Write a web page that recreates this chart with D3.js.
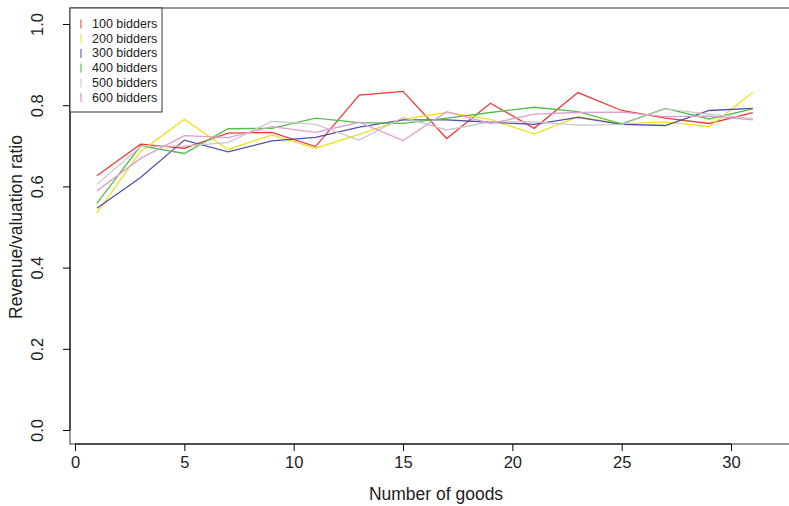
<!DOCTYPE html>
<html><head><meta charset="utf-8">
<script src="https://cdn.jsdelivr.net/npm/d3@7"></script>
<style>body{margin:0;background:#fff}svg{display:block;font-family:"Liberation Sans",Arial,Helvetica,sans-serif}</style>
</head><body><svg id="c" width="789" height="506"></svg>
<script>
const goods = [1,3,5,7,9,11,13,15,17,19,21,23,25,27,29,31];
const seriesNames = ["100 bidders","200 bidders","300 bidders","400 bidders","500 bidders","600 bidders"];
const bidders100 = [0.626,0.704,0.694,0.731,0.733,0.698,0.825,0.834,0.718,0.805,0.743,0.831,0.787,0.768,0.755,0.782];
const bidders200 = [0.534,0.686,0.765,0.691,0.727,0.694,0.728,0.765,0.782,0.765,0.729,0.772,0.754,0.759,0.747,0.832];
const bidders300 = [0.546,0.622,0.714,0.685,0.712,0.721,0.746,0.764,0.764,0.758,0.753,0.770,0.753,0.750,0.787,0.792];
const bidders400 = [0.558,0.700,0.681,0.742,0.743,0.768,0.757,0.755,0.768,0.782,0.795,0.784,0.754,0.792,0.766,0.791];
const bidders500 = [0.605,0.698,0.700,0.708,0.760,0.753,0.714,0.770,0.739,0.759,0.759,0.751,0.752,0.791,0.778,0.767];
const bidders600 = [0.589,0.669,0.725,0.720,0.747,0.733,0.758,0.713,0.784,0.755,0.778,0.782,0.783,0.772,0.773,0.764];
const allSeries = [bidders100,bidders200,bidders300,bidders400,bidders500,bidders600];
const lineColors = ["#f03a3a","#eee21e","#5050a8","#56bd4e","#c8c8c8","#dc9fd2"];
const swatchColors = ["#f39a9a","#f4f087","#a4a4d0","#9cd996","#e0e0e0","#e8bfe2"];
const xTicks = [0,5,10,15,20,25,30];
const yTicks = [0,0.2,0.4,0.6,0.8,1.0];

const svg = d3.select("#c");
const x = d3.scaleLinear().domain([0,30]).range([75,731]);
const y = d3.scaleLinear().domain([0,1]).range([430,24]);
const boxL = 70, boxT = 8, boxB = 444, boxR = 800;

const line = d3.line().x((d,i)=>x(goods[i])).y(d=>y(d));
allSeries.forEach((s,k)=>{
  svg.append("path").datum(s).attr("d",line).attr("fill","none")
    .attr("stroke",lineColors[k]).attr("stroke-width",1.3);
});

svg.append("rect").attr("x",boxL).attr("y",boxT).attr("width",boxR-boxL).attr("height",boxB-boxT)
  .attr("fill","none").attr("stroke","#333").attr("stroke-width",1);

const xa = svg.append("g").attr("transform",`translate(0,${boxB})`)
  .call(d3.axisBottom(x).tickValues(xTicks).tickSize(7).tickPadding(5).tickFormat(d3.format("d")));
xa.select(".domain").attr("d",`M${x(0)},0H${x(30)}`).attr("stroke","#000");
xa.selectAll("text").attr("font-size",16.5).attr("fill","#222").attr("font-family","Liberation Sans, Arial, sans-serif");

const ya = svg.append("g").attr("transform",`translate(${boxL},0)`)
  .call(d3.axisLeft(y).tickValues(yTicks).tickSize(7).tickFormat(d3.format(".1f")));
ya.select(".domain").attr("d",`M0,${y(0)}V${y(1)}`).attr("stroke","#000");
ya.selectAll("text").attr("font-size",16.5).attr("fill","#222").attr("font-family","Liberation Sans, Arial, sans-serif")
  .attr("text-anchor","middle").attr("dy",null).attr("dominant-baseline","central")
  .attr("x",0).attr("y",0)
  .attr("transform","translate(-33,0) rotate(-90)");

svg.append("text").attr("x",436).attr("y",500).attr("text-anchor","middle")
  .attr("font-size",17.5).attr("fill","#222").text("Number of goods");
svg.append("text").attr("transform",`translate(16,${y(0.5)}) rotate(-90)`).attr("text-anchor","middle")
  .attr("dominant-baseline","central").attr("font-size",17.5).attr("fill","#222").text("Revenue/valuation ratio");

const lg = svg.append("g");
lg.append("rect").attr("x",boxL).attr("y",boxT).attr("width",92).attr("height",104)
  .attr("fill","#fff").attr("stroke","#333").attr("stroke-width",1);
seriesNames.forEach((n,i)=>{
  const cy = 24 + i*14.7;
  lg.append("rect").attr("x",80).attr("y",cy-4.5).attr("width",2).attr("height",9).attr("fill",swatchColors[i]);
  lg.append("text").attr("x",92).attr("y",cy).attr("dominant-baseline","central")
    .attr("font-size",12.5).attr("fill","#222").text(n);
});
</script></body></html>
